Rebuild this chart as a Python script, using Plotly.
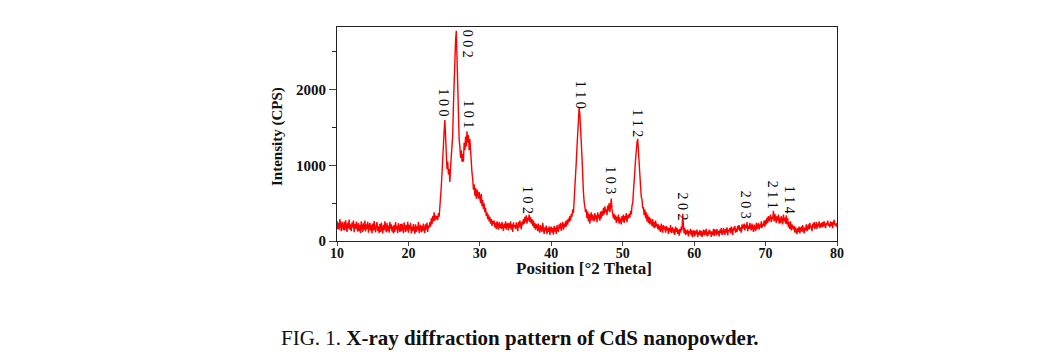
import plotly.graph_objects as go

# 2-theta grid: 10.0 .. 80.0 in 0.1 deg steps
theta_start = 10.0
theta_step = 0.1

# Intensity (CPS), one row per degree (10 values each)
intensity_rows = [
    [265, 160, 240, 150, 290, 185, 130, 255, 210, 145],  # 10
    [250, 140, 275, 195, 120, 240, 165, 285, 150, 220],  # 11
    [130, 245, 175, 270, 115, 225, 160, 255, 200, 125],  # 12
    [240, 130, 215, 105, 260, 175, 120, 235, 150, 270],  # 13
    [125, 220, 160, 255, 110, 200, 240, 135, 215, 100],  # 14
    [230, 140, 265, 170, 115, 210, 250, 130, 195, 105],  # 15
    [225, 120, 245, 165, 100, 215, 140, 260, 180, 115],  # 16
    [240, 135, 205, 110, 255, 160, 220, 125, 195, 100],  # 17
    [215, 115, 250, 150, 200, 105, 235, 170, 120, 225],  # 18
    [130, 230, 160, 105, 245, 180, 120, 210, 140, 255],  # 19
    [110, 215, 150, 240, 100, 190, 130, 225, 155, 95],  # 20
    [220, 120, 195, 145, 250, 105, 180, 215, 115, 200],  # 21
    [130, 230, 165, 105, 220, 150, 245, 120, 205, 175],  # 22
    [250, 190, 300, 220, 330, 260, 380, 270, 340, 290],  # 23
    [330, 280, 370, 320, 450, 560, 720, 900, 1150, 1380],  # 24
    [1450, 1600, 1350, 1200, 950, 1050, 880, 950, 780, 980],  # 25
    [1100, 1280, 1400, 1800, 2200, 2450, 2650, 2780, 2300, 1950],  # 26
    [1650, 1350, 1250, 1100, 1200, 1050, 1150, 1050, 1300, 1200],  # 27
    [1380, 1250, 1450, 1300, 1400, 1200, 1350, 1150, 1050, 900],  # 28
    [820, 680, 750, 600, 700, 560, 680, 620, 560, 650],  # 29
    [580, 500, 620, 460, 540, 420, 500, 380, 440, 330],  # 30
    [380, 290, 350, 260, 320, 230, 290, 200, 270, 220],  # 31
    [270, 180, 240, 160, 260, 210, 150, 250, 175, 230],  # 32
    [160, 250, 190, 135, 230, 175, 260, 150, 210, 240],  # 33
    [140, 235, 175, 260, 150, 220, 120, 245, 185, 210],  # 34
    [160, 245, 195, 130, 250, 180, 270, 200, 155, 260],  # 35
    [210, 290, 225, 320, 250, 340, 230, 310, 270, 350],  # 36
    [250, 320, 230, 290, 200, 270, 170, 240, 150, 220],  # 37
    [200, 130, 230, 155, 110, 210, 175, 120, 240, 140],  # 38
    [95, 180, 130, 205, 90, 170, 120, 195, 80, 160],  # 39
    [190, 110, 170, 85, 200, 125, 180, 95, 210, 150],  # 40
    [120, 220, 165, 240, 135, 205, 250, 150, 230, 180],  # 41
    [260, 190, 280, 215, 300, 250, 330, 270, 360, 320],  # 42
    [420, 370, 520, 600, 820, 1050, 1250, 1450, 1650, 1760],  # 43
    [1680, 1550, 1300, 1100, 800, 650, 520, 470, 380, 420],  # 44
    [300, 390, 260, 360, 230, 330, 380, 270, 350, 300],  # 45
    [260, 370, 290, 340, 250, 380, 300, 350, 270, 390],  # 46
    [300, 400, 330, 440, 350, 460, 380, 420, 340, 470],  # 47
    [400, 500, 380, 460, 560, 420, 370, 300, 360, 280],  # 48
    [340, 240, 320, 260, 350, 230, 310, 270, 220, 330],  # 49
    [260, 350, 240, 330, 280, 370, 250, 340, 300, 360],  # 50
    [310, 400, 350, 470, 500, 650, 750, 930, 1080, 1250],  # 51
    [1300, 1350, 1150, 1020, 820, 720, 580, 550, 430, 450],  # 52
    [340, 420, 300, 380, 260, 350, 240, 320, 220, 300],  # 53
    [260, 200, 290, 180, 250, 170, 270, 190, 230, 160],  # 54
    [220, 140, 200, 120, 230, 160, 110, 210, 150, 190],  # 55
    [110, 200, 140, 180, 95, 170, 125, 210, 105, 160],  # 56
    [180, 100, 160, 80, 190, 120, 170, 95, 150, 70],  # 57
    [160, 110, 190, 140, 360, 210, 100, 170, 80, 140],  # 58
    [90, 150, 60, 130, 100, 160, 70, 140, 50, 120],  # 59
    [140, 60, 130, 90, 150, 50, 120, 80, 145, 70],  # 60
    [130, 55, 110, 150, 70, 140, 85, 160, 60, 120],  # 61
    [75, 150, 95, 135, 55, 125, 80, 160, 65, 145],  # 62
    [140, 70, 160, 90, 130, 60, 150, 105, 170, 80],  # 63
    [100, 170, 120, 80, 160, 110, 180, 75, 150, 130],  # 64
    [170, 100, 190, 130, 80, 180, 140, 200, 110, 165],  # 65
    [120, 200, 150, 210, 130, 180, 110, 220, 160, 190],  # 66
    [230, 140, 210, 170, 250, 130, 200, 160, 240, 180],  # 67
    [140, 230, 170, 120, 215, 185, 130, 240, 155, 200],  # 68
    [240, 150, 220, 180, 260, 170, 230, 200, 270, 190],  # 69
    [280, 220, 310, 240, 330, 260, 300, 350, 250, 320],  # 70
    [290, 400, 260, 360, 300, 240, 330, 270, 350, 230],  # 71
    [310, 240, 330, 280, 220, 350, 260, 310, 230, 340],  # 72
    [220, 300, 180, 250, 160, 260, 140, 220, 190, 150],  # 73
    [200, 110, 180, 140, 90, 170, 120, 190, 100, 160],  # 74
    [190, 120, 210, 150, 100, 180, 140, 220, 130, 170],  # 75
    [220, 150, 240, 170, 200, 130, 230, 180, 250, 160],  # 76
    [210, 250, 160, 230, 190, 260, 170, 220, 240, 180],  # 77
    [250, 190, 260, 210, 170, 240, 220, 270, 200, 230],  # 78
    [180, 260, 200, 250, 170, 240, 280, 210, 230, 190],  # 79
    [240],  # 80
]

# Peak (hkl) labels: text, x position, y centre
peak_labels = ["1 0 0", "0 0 2", "1 0 1", "1 0 2", "1 1 0", "1 0 3",
               "1 1 2", "2 0 2", "2 0 3", "2 1 1", "1 1 4"]
peak_label_x = [24.85, 28.2, 28.4, 36.6, 44.2, 48.3, 52.1, 58.4, 67.3, 70.9, 73.3]
peak_label_y = [1830, 2610, 1670, 543, 1930, 810, 1560, 460, 475, 610, 543]

x_tick_vals = [10, 20, 30, 40, 50, 60, 70, 80]
y_tick_vals = [0, 1000, 2000]

intensity = [v for row in intensity_rows for v in row]
two_theta = [round(theta_start + i * theta_step, 1) for i in range(len(intensity))]

serif = "Liberation Serif, Times New Roman, serif"

fig = go.Figure()
fig.add_trace(go.Scatter(
    x=two_theta, y=intensity, mode="lines",
    line=dict(color="#ff0000", width=1.4),
    showlegend=False, hoverinfo="skip",
))

annotations = []
for t, xv, yv in zip(peak_labels, peak_label_x, peak_label_y):
    annotations.append(dict(
        x=xv, y=yv, xref="x", yref="y", text=t, showarrow=False,
        xanchor="center", yanchor="middle",
        textangle=90, font=dict(family=serif, size=14, color="#000"),
    ))

annotations.append(dict(
    x=0.494, y=-(268 - 241) / 214, xref="paper", yref="paper",
    xanchor="center", yanchor="middle",
    text="Position [°2 Theta]", showarrow=False,
    font=dict(family=serif, size=17, color="#111", weight="bold"),
))
annotations.append(dict(
    x=-(337 - 278) / 500, y=0.486, xref="paper", yref="paper",
    xanchor="center", yanchor="middle",
    text="Intensity (CPS)", showarrow=False, textangle=-90,
    font=dict(family=serif, size=15, color="#111", weight="bold"),
))
annotations.append(dict(
    x=(520 - 337) / 500, y=-(338 - 241) / 214, xref="paper", yref="paper",
    xanchor="center", yanchor="middle",
    text="FIG. 1. <b>X-ray diffraction pattern of CdS nanopowder.</b>",
    showarrow=False,
    font=dict(family=serif, size=21, color="#111"),
))

fig.update_layout(
    width=1060, height=360,
    margin=dict(l=329, r=231, t=19, b=127),
    paper_bgcolor="white", plot_bgcolor="white",
    annotations=annotations,
    xaxis=dict(
        range=[10, 80], tickvals=x_tick_vals, ticks="outside", ticklen=4,
        ticklabelstandoff=-5,
        showline=True, linecolor="#222", linewidth=1, mirror=True,
        showgrid=False, zeroline=False,
        tickfont=dict(family=serif, size=14, color="#111", weight="bold"),
    ),
    yaxis=dict(
        range=[0, 2830], tickvals=y_tick_vals, ticks="outside", ticklen=7,
        ticklabelstandoff=0,
        minor=dict(tickvals=[500, 1500, 2500], ticks="outside", ticklen=4, tickcolor="#222"),
        showline=True, linecolor="#222", linewidth=1, mirror=True,
        showgrid=False, zeroline=False,
        tickfont=dict(family=serif, size=15, color="#111", weight="bold"),
    ),
)

fig.write_html("out.html")
